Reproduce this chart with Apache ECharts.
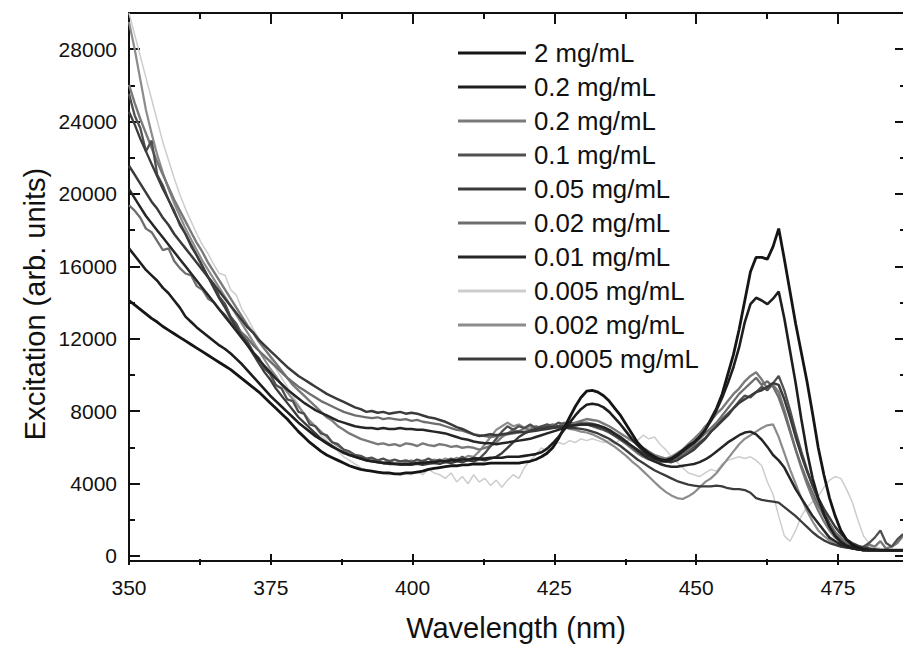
<!DOCTYPE html>
<html>
<head>
<meta charset="utf-8">
<script src="https://cdn.jsdelivr.net/npm/echarts@6/dist/echarts.min.js"></script>
<style>
  html, body { margin: 0; padding: 0; background: #fff; overflow: hidden; }
  #chart { width: 903px; height: 647px; overflow: hidden; }
  #chart svg { display: block; }
</style>
</head>
<body>
<div id="chart"></div>
<script>
// Excitation spectra of the dilution series, sampled every 1 nm (350–487 nm).
const wavelengths = [
  350,351,352,353,354,355,356,357,358,359,
  360,361,362,363,364,365,366,367,368,369,
  370,371,372,373,374,375,376,377,378,379,
  380,381,382,383,384,385,386,387,388,389,
  390,391,392,393,394,395,396,397,398,399,
  400,401,402,403,404,405,406,407,408,409,
  410,411,412,413,414,415,416,417,418,419,
  420,421,422,423,424,425,426,427,428,429,
  430,431,432,433,434,435,436,437,438,439,
  440,441,442,443,444,445,446,447,448,449,
  450,451,452,453,454,455,456,457,458,459,
  460,461,462,463,464,465,466,467,468,469,
  470,471,472,473,474,475,476,477,478,479,
  480,481,482,483,484,485,486,487
];

const conc2 = [
  14000,13750,13500,13250,13000,12800,12550,12350,12150,11950,
  11750,11550,11350,11150,10950,10750,10550,10350,10150,9900,
  9650,9400,9150,8900,8600,8300,8000,7700,7400,7050,
  6700,6400,6100,5850,5600,5400,5250,5100,4950,4800,
  4700,4600,4550,4500,4450,4400,4400,4350,4350,4400,
  4400,4450,4500,4600,4650,4700,4750,4800,4800,4850,
  4850,4900,4900,4900,4950,4950,4950,4950,4950,4950,
  5000,5050,5150,5300,5500,5800,6300,6900,7500,8100,
  8600,8950,9000,8900,8700,8400,8000,7600,7100,6600,
  6100,5750,5500,5300,5150,5100,5200,5400,5650,5900,
  6100,6400,6800,7400,8000,8800,9900,11000,12400,14000,
  15600,16400,16400,16300,17000,18000,16300,14500,12700,11100,
  9500,7700,5800,4300,3000,2000,1200,700,400,250,
  150,100,100,100,100,100,100,100
];

const conc02a = [
  16900,16500,16100,15700,15400,15100,14700,14400,14000,13600,
  13100,12800,12500,12250,12000,11750,11500,11300,11050,10750,
  10450,10100,9750,9400,9050,8700,8400,8100,7800,7500,
  7200,6950,6700,6450,6250,6050,5850,5700,5550,5400,
  5300,5200,5100,5050,5000,4950,4950,4900,4900,4900,
  4900,4950,4950,5000,5000,5050,5050,5100,5100,5150,
  5150,5200,5200,5200,5250,5250,5250,5300,5300,5300,
  5350,5400,5450,5550,5750,6050,6400,6800,7200,7600,
  7950,8200,8250,8200,8050,7800,7450,7100,6700,6300,
  5950,5650,5400,5200,5100,5050,5150,5350,5600,5850,
  6100,6400,6800,7300,7900,8600,9400,10300,11400,12800,
  13800,14150,14000,13800,14100,14500,13000,11200,9400,7400,
  5600,4100,3000,2100,1400,900,550,350,250,150,
  100,100,100,100,100,100,100,100
];

const conc02b = [
  26000,25000,24100,23300,22500,21700,21000,20300,19600,19000,
  18400,17800,17200,16700,16100,15600,15100,14600,14100,13600,
  13100,12600,12200,11700,11300,10900,10500,10100,9700,9300,
  9000,8700,8400,8100,7800,7500,7300,7000,6800,6600,
  6450,6300,6200,6100,6000,6050,5950,6000,5900,6050,
  6000,5900,6050,5950,5900,6000,5950,5850,5900,5800,
  5850,5800,5700,5800,5900,6100,6400,6600,6800,6700,
  6900,6800,7000,6900,7000,7100,7000,7200,7100,7200,
  7300,7400,7350,7300,7150,7000,6800,6600,6400,6200,
  6000,5800,5600,5400,5300,5200,5300,5500,5700,6000,
  6300,6600,7000,7300,7700,8000,8400,8800,9100,9500,
  9800,10000,9600,9100,9300,8900,7900,6800,5700,4700,
  3800,3000,2300,1700,1200,800,550,400,300,200,
  150,400,300,600,200,300,500,900
];

const conc01 = [
  25500,24300,23600,22300,22900,21000,20400,19600,19000,18200,
  17700,17000,16500,15900,15300,14900,14200,13800,13100,12700,
  12100,11700,11100,10800,10200,9900,9300,9100,8500,8400,
  7800,7700,7100,7000,6600,6500,6100,6000,5700,5600,
  5400,5350,5200,5250,5100,5200,5050,5150,5050,5100,
  5000,5150,5050,5200,5050,5150,5000,5200,5100,5300,
  5100,5250,5200,5500,5900,6300,6700,7000,6800,7000,
  6900,7100,6900,7000,7100,7000,7200,7100,7200,7100,
  7200,7100,7000,6900,6800,6650,6450,6250,6050,5850,
  5650,5500,5350,5200,5100,5050,5100,5250,5450,5650,
  5850,6100,6350,6700,7000,7400,7700,8000,8400,8700,
  8600,8900,9200,9000,9400,9800,9000,7900,6700,5600,
  4600,3700,2900,2200,1600,1100,700,450,300,200,
  300,500,800,1200,500,300,700,1000
];

const conc005 = [
  21500,21000,20500,20000,19500,19100,18600,18200,17700,17300,
  16900,16500,16100,15700,15300,14900,14500,14100,13700,13300,
  12900,12500,12200,11800,11500,11200,10900,10600,10300,10050,
  9800,9600,9400,9200,9000,8800,8650,8500,8350,8200,
  8050,7950,7800,7850,7750,7800,7700,7750,7800,7700,
  7750,7700,7600,7500,7450,7350,7250,7100,6950,6850,
  6700,6550,6450,6500,6550,6500,6550,6600,6650,6700,
  6650,6700,6750,6800,6850,6900,6950,7000,7050,7050,
  7100,7100,7050,7000,6900,6700,6500,6300,6100,5900,
  5700,5500,5350,5200,5100,5050,5000,5100,5300,5500,
  5700,6000,6300,6700,7000,7300,7600,8000,8300,8500,
  8700,8900,9000,9200,9400,9300,8500,7500,6400,5400,
  4500,3700,3000,2400,1900,1400,1000,700,500,350,
  250,200,150,100,100,100,100,100
];

const conc002 = [
  19300,19000,18600,18000,17800,17300,16800,16900,16200,15800,
  15500,15400,14800,14600,14100,13900,13500,13200,12800,12500,
  12200,11900,11500,11200,10900,10600,10300,10000,9700,9450,
  9200,9000,8800,8600,8400,8250,8100,7950,7800,7700,
  7600,7550,7500,7450,7500,7400,7450,7400,7350,7400,
  7300,7350,7250,7200,7150,7100,7000,6900,6800,6750,
  6650,6550,6500,6450,6400,6450,6500,6550,6600,6650,
  6700,6750,6800,6850,6900,6950,7000,7050,7100,7150,
  7200,7200,7150,7050,6900,6700,6500,6250,6000,5750,
  5500,5300,5150,5050,5000,5050,5150,5300,5500,5700,
  6000,6300,6600,6900,7200,7600,8000,8400,8800,9100,
  9400,9700,9300,9500,9200,8600,7700,6700,5700,4800,
  4000,3300,2600,2000,1500,1100,800,550,400,300,
  200,150,100,100,100,100,100,100
];

const conc001 = [
  20200,19700,19200,18700,18300,17900,17500,17100,16700,16300,
  15900,15500,15100,14700,14300,13900,13500,13100,12700,12300,
  11900,11500,11100,10700,10350,10000,9650,9350,9050,8800,
  8550,8300,8100,7900,7750,7600,7450,7300,7200,7100,
  7000,6950,6900,6900,6850,6900,6850,6850,6900,6850,
  6850,6800,6800,6750,6700,6650,6600,6500,6400,6300,
  6250,6150,6100,6050,6050,6000,6050,6100,6150,6200,
  6250,6300,6400,6500,6600,6700,6800,6900,7000,7050,
  7100,7100,7100,7050,6950,6800,6600,6400,6150,5900,
  5650,5400,5200,5050,4900,4800,4750,4750,4800,4850,
  4900,5000,5150,5350,5600,5850,6100,6300,6500,6650,
  6700,6550,6250,5850,5400,5100,4700,4100,3500,3000,
  2500,2000,1600,1200,800,600,400,300,200,150,
  100,100,100,100,100,100,100,100
];

const conc0005 = [
  30000,28800,27600,26400,25200,24000,22800,21800,20800,19900,
  19100,18400,17700,17100,16600,16000,15500,15400,14600,14300,
  13500,13000,12400,11900,11300,10800,10200,9700,9200,8700,
  8200,7700,7300,6900,6500,6200,5900,5600,5300,5100,
  4900,4700,4550,4450,4400,4350,4300,4400,4250,4350,
  4300,4500,4300,4600,4400,4300,4100,4400,3900,4200,
  3800,4300,3900,4100,3700,4000,3600,4000,4300,4100,
  4700,5100,5400,5800,5600,5900,6100,6000,6200,6100,
  6300,6200,6300,6200,6100,6200,6000,6300,6100,6400,
  6200,6500,6300,6400,6000,5700,5300,5000,4700,4400,
  4300,4200,4400,4600,4500,4900,5100,5200,5300,5200,
  5300,5100,4800,3900,3200,2000,900,600,1200,2000,
  2500,2800,3100,3600,4000,4200,4100,3500,2800,1800,
  900,500,300,200,150,100,100,100
];

const conc0002 = [
  29500,28000,26300,24600,23300,22100,21100,20200,19400,18700,
  18000,17400,16800,16200,15700,15200,14700,14200,13700,13200,
  12700,12200,11700,11200,10700,10200,9800,9300,8900,8500,
  8100,7700,7300,7000,6700,6400,6100,5900,5700,5500,
  5400,5300,5200,5150,5100,5000,5100,4950,5050,5000,
  5100,4950,5100,5000,5150,5050,5200,5100,5250,5150,
  5350,5300,5600,6000,6400,6800,7000,7200,7000,7100,
  6900,7000,6800,7000,6900,7000,6900,6950,6850,6800,
  6700,6650,6550,6400,6250,6050,5850,5600,5350,5050,
  4800,4500,4200,3900,3600,3350,3150,3000,2950,3100,
  3300,3600,3900,4100,4400,4800,5200,5600,6000,6300,
  6500,6700,6900,7050,7100,6400,5500,4600,3800,3000,
  2300,1700,1200,900,650,450,300,250,200,150,
  100,100,100,100,100,100,100,100
];

const conc00005 = [
  24500,23800,23000,22300,21600,20900,20200,19600,18900,18300,
  17700,17100,16500,15900,15300,14700,14100,13600,13000,12500,
  12000,11500,11000,10500,10000,9600,9100,8700,8300,7900,
  7500,7200,6900,6600,6300,6100,5900,5700,5500,5400,
  5300,5200,5100,5050,5000,4950,4900,4900,4850,4850,
  4850,4900,4850,4900,4950,4900,5000,4950,5050,5000,
  5100,5050,5150,5100,5200,5300,5500,5800,6100,6400,
  6600,6750,6850,6900,6950,6950,7000,6950,6900,6900,
  6850,6800,6700,6600,6450,6300,6100,5900,5650,5400,
  5150,4950,4750,4550,4400,4250,4100,3950,3850,3750,
  3700,3650,3650,3650,3700,3650,3550,3500,3500,3450,
  3300,3000,2900,2850,2800,2750,2500,2250,2000,1700,
  1400,1100,850,650,500,400,300,250,200,150,
  100,100,100,100,100,100,100,100
];

// Legend labels, in legend order (the two 0.2 mg/mL runs share a label)
const seriesKeys   = ['c2', 'c02a', 'c02b', 'c01', 'c005', 'c002', 'c001', 'c0005', 'c0002', 'c00005'];
const seriesLabels = ['2 mg/mL', '0.2 mg/mL', '0.2 mg/mL', '0.1 mg/mL', '0.05 mg/mL',
                      '0.02 mg/mL', '0.01 mg/mL', '0.005 mg/mL', '0.002 mg/mL', '0.0005 mg/mL'];
const seriesValues = [conc2, conc02a, conc02b, conc01, conc005, conc002, conc001, conc0005, conc0002, conc00005];

// Axis ranges and tick spacing
const X_MIN = 350, X_MAX = 487, X_TICK_END = 475, X_STEP = 25;
const Y_MIN = -500, Y_MAX = 30000, Y_TICK_END = 28000, Y_STEP = 4000;
const MAJOR_LEN = 11, MINOR_LEN = 6;

// Line appearance per series
const lineColors = ['#151515', '#1e1e1e', '#7a7a7a', '#505050', '#3a3a3a',
                    '#6e6e6e', '#262626', '#cdcdcd', '#8c8c8c', '#3c3c3c'];
const lineWidths = [2.8, 2.6, 2.4, 2.3, 2.5, 2.3, 2.5, 1.5, 2.2, 2.3];
const lineZ      = [5, 5, 3, 3, 4, 3, 4, 1, 2, 3];

const FONT = '"Liberation Sans", Arial, Helvetica, sans-serif';
const INK = '#111';

// Data area (pixels); the right frame edge sits just past the canvas edge
const W = 903, H = 647;
const LEFT = 129, RIGHT = -3, TOP = 13, BOTTOM = 82;
const plotW = W - LEFT - RIGHT;
const plotH = H - TOP - BOTTOM;
const pxPerX = plotW / (X_MAX - X_MIN);
const pxPerY = plotH / (Y_MAX - Y_MIN);
const frameRightX = W + 3;

// Tick bands share the data scale and start on a whole tick (350 nm, 0 counts)
const xTickRight  = W - LEFT - (X_TICK_END - X_MIN) * pxPerX;
const yTickBottom = BOTTOM + (0 - Y_MIN) * pxPerY;
const yTickTop    = H - yTickBottom - Y_TICK_END * pxPerY;

const ink = () => ({ color: INK, width: 2 });
const off = () => ({ show: false });
const plainNumber = v => String(v);
const labelStyle = () => ({ show: true, margin: 12, fontFamily: FONT, fontSize: 21, color: INK, formatter: plainNumber });

const grids = [{ left: LEFT, right: RIGHT, top: TOP, bottom: BOTTOM, containLabel: false }];
const xAxes = [];
const yAxes = [];

// Data grid: frame lines and axis titles
xAxes.push({
  type: 'value', gridIndex: 0, position: 'bottom', min: X_MIN, max: X_MAX,
  axisLine: { show: true, onZero: false, lineStyle: ink() },
  axisTick: off(), minorTick: off(), axisLabel: off(), splitLine: off(),
  name: 'Wavelength (nm)', nameLocation: 'middle', nameGap: 52,
  nameTextStyle: { fontFamily: FONT, fontSize: 29, color: INK }
});
xAxes.push({
  type: 'value', gridIndex: 0, position: 'top', min: X_MIN, max: X_MAX,
  axisLine: { show: true, onZero: false, lineStyle: ink() },
  axisTick: off(), minorTick: off(), axisLabel: off(), splitLine: off()
});
yAxes.push({
  type: 'value', gridIndex: 0, position: 'left', min: Y_MIN, max: Y_MAX,
  axisLine: { show: true, onZero: false, lineStyle: ink() },
  axisTick: off(), minorTick: off(), axisLabel: off(), splitLine: off(),
  name: 'Excitation (arb. units)', nameLocation: 'middle', nameGap: 80,
  nameTextStyle: { fontFamily: FONT, fontSize: 29, color: INK, padding: [0, 34, 0, 0] }
});

// Tick marks: thin bands along each frame edge; each band's grid lines are the ticks
function tickBandAxis(min, max, step, major, position, labels) {
  return {
    type: 'value', min: min, max: max, interval: step, position: position,
    axisLine: off(), axisTick: off(),
    minorTick: { show: false, splitNumber: 2 },
    axisLabel: labels ? labelStyle() : off(),
    splitLine: major ? { show: true, lineStyle: ink() } : off(),
    minorSplitLine: major ? off() : { show: true, lineStyle: ink() }
  };
}
const spacerAxis = () => ({ type: 'value', min: 1, max: 2, show: false });

function addXBand(edge, major) {
  const len = major ? MAJOR_LEN : MINOR_LEN;
  const g = edge === 'bottom'
    ? { left: LEFT, right: xTickRight, top: H - BOTTOM - len, bottom: BOTTOM }
    : { left: LEFT, right: xTickRight, top: TOP, bottom: H - TOP - len };
  g.containLabel = false;
  const gi = grids.push(g) - 1;
  xAxes.push(Object.assign(tickBandAxis(X_MIN, X_TICK_END, X_STEP, major, edge, major && edge === 'bottom'), { gridIndex: gi }));
  yAxes.push(Object.assign(spacerAxis(), { gridIndex: gi }));
}

function addYBand(edge, major) {
  const len = major ? MAJOR_LEN : MINOR_LEN;
  const rightEdge = Math.min(frameRightX, W);
  const g = edge === 'left'
    ? { left: LEFT, right: W - LEFT - len, top: yTickTop, bottom: yTickBottom }
    : { left: frameRightX - len, right: W - rightEdge, top: yTickTop, bottom: yTickBottom };
  g.containLabel = false;
  const gi = grids.push(g) - 1;
  yAxes.push(Object.assign(tickBandAxis(0, Y_TICK_END, Y_STEP, major, edge, major && edge === 'left'), { gridIndex: gi }));
  xAxes.push(Object.assign(spacerAxis(), { gridIndex: gi }));
}

addXBand('bottom', true);
addXBand('bottom', false);
addXBand('top', true);
addXBand('top', false);
addYBand('left', true);
addYBand('left', false);
addYBand('right', true);
addYBand('right', false);

const series = seriesKeys.map((key, i) => ({
  type: 'line',
  name: key,
  xAxisIndex: 0,
  yAxisIndex: 0,
  showSymbol: false,
  symbol: 'none',
  z: lineZ[i],
  silent: true,
  lineStyle: { color: lineColors[i], width: lineWidths[i] },
  itemStyle: { color: lineColors[i] },
  data: wavelengths.map((w, j) => [w, seriesValues[i][j]])
}));

const labelByKey = {};
seriesKeys.forEach((k, i) => { labelByKey[k] = seriesLabels[i]; });

const chart = echarts.init(document.getElementById('chart'), null, { renderer: 'svg', width: W, height: H });
chart.setOption({
  animation: false,
  grid: grids,
  xAxis: xAxes,
  yAxis: yAxes,
  legend: {
    data: seriesKeys,
    orient: 'vertical',
    left: 453,
    top: 35,
    padding: 5,
    icon: 'rect',
    itemWidth: 68,
    itemHeight: 3,
    itemGap: 8,
    selectedMode: false,
    formatter: name => labelByKey[name],
    textStyle: { fontFamily: FONT, fontSize: 25.8, color: INK, padding: [0, 0, 0, 3] }
  },
  series: series
});
</script>
</body>
</html>
